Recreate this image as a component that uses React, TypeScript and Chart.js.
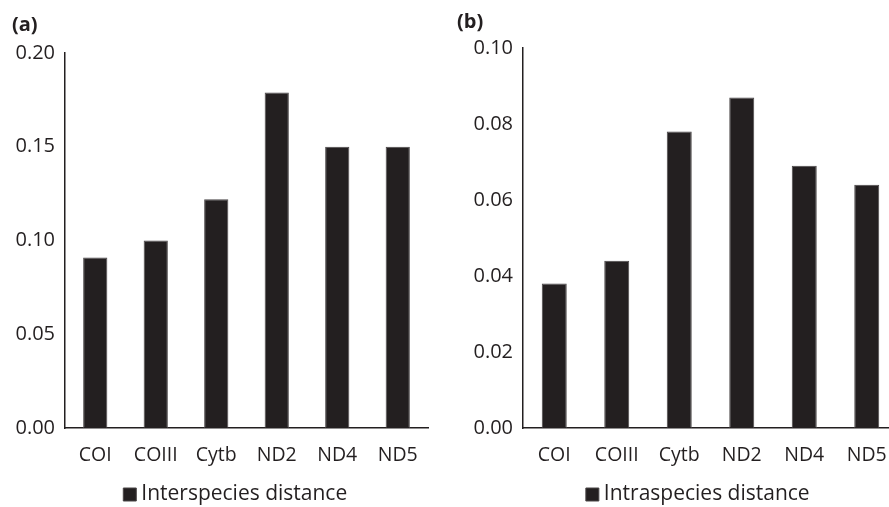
import React, { useEffect, useRef } from "react";
import { Chart, registerables } from "chart.js";

Chart.register(...registerables);

const genes = ["COI", "COIII", "Cytb", "ND2", "ND4", "ND5"];
const interValues = [0.091, 0.1, 0.122, 0.179, 0.15, 0.15];
const intraValues = [0.038, 0.044, 0.078, 0.087, 0.069, 0.064];
const interTickStep = 0.05;
const interMax = 0.2;
const intraTickStep = 0.02;
const intraMax = 0.1;

const FONT = "'Open Sans', 'Noto Sans', sans-serif";
const INK = "#231f20";

type PanelProps = {
  values: number[];
  legendLabel: string;
  max: number;
  step: number;
  left: number;
  width: number;
  yAxisWidth: number;
  padTop: number;
  padRight: number;
  legendShift: number;
};

function Panel(p: PanelProps) {
  const ref = useRef<HTMLCanvasElement | null>(null);
  useEffect(() => {
    if (!ref.current) return;
    const chart = new Chart(ref.current, {
      type: "bar",
      data: {
        labels: genes,
        datasets: [
          {
            label: p.legendLabel,
            data: p.values,
            backgroundColor: INK,
            borderColor: "#4a4647",
            borderWidth: 1,
            categoryPercentage: 1,
            barPercentage: 0.4,
          },
        ],
      },
      plugins: [
        {
          id: "legendShift",
          afterLayout(c: any) {
            const l = c.legend;
            if (l) {
              l.left += p.legendShift;
              l.right += p.legendShift;
            }
          },
        },
      ],
      options: {
        animation: false,
        responsive: false,
        maintainAspectRatio: false,
        layout: { padding: { top: p.padTop, right: p.padRight, left: 0, bottom: -8 } },
        plugins: {
          tooltip: { enabled: false },
          title: { display: false },
          legend: {
            position: "bottom",
            labels: {
              color: INK,
              font: { family: FONT, size: 21 },
              usePointStyle: true,
              pointStyle: "rect",
              boxWidth: 2,
              boxHeight: 13,
              padding: 0,
            },
          },
        },
        scales: {
          x: {
            grid: { display: false, drawTicks: false },
            border: { display: true, color: INK, width: 1.5 },
            ticks: {
              color: INK,
              font: { family: FONT, size: 19.5 },
              padding: 16,
              maxRotation: 0,
              autoSkip: false,
            },
            afterFit: (s: any) => {
              s.height = 56;
            },
          },
          y: {
            min: 0,
            max: p.max,
            grid: { display: false, drawTicks: false },
            border: { display: true, color: INK, width: 1.5 },
            ticks: {
              stepSize: p.step,
              color: INK,
              font: { family: FONT, size: 20 },
              padding: 10,
              callback: (v: any) => Number(v).toFixed(2),
            },
            afterFit: (s: any) => {
              s.width = p.yAxisWidth;
            },
          },
        },
      },
    });
    return () => chart.destroy();
  }, []);
  return (
    <canvas
      ref={ref}
      width={p.width}
      height={507}
      style={{ position: "absolute", left: p.left, top: 0, width: p.width, height: 507 }}
    />
  );
}

export default function App() {
  return (
    <div
      style={{
        position: "fixed",
        left: 0,
        top: 0,
        width: 889,
        height: 507,
        overflow: "hidden",
        background: "#ffffff",
      }}
    >
      <Panel
        values={interValues}
        legendLabel="Interspecies distance"
        max={interMax}
        step={interTickStep}
        left={0}
        width={472}
        yAxisWidth={65}
        padTop={53}
        padRight={44}
        legendShift={24}
      />
      <Panel
        values={intraValues}
        legendLabel="Intraspecies distance"
        max={intraMax}
        step={intraTickStep}
        left={445}
        width={506}
        yAxisWidth={78}
        padTop={48}
        padRight={53}
        legendShift={29}
      />
      <div
        style={{
          position: "absolute",
          left: 12,
          top: 10,
          font: `bold 20px ${FONT}`,
          color: INK,
        }}
      >
        (a)
      </div>
      <div
        style={{
          position: "absolute",
          left: 457,
          top: 7,
          font: `bold 20px ${FONT}`,
          color: INK,
        }}
      >
        (b)
      </div>
    </div>
  );
}
